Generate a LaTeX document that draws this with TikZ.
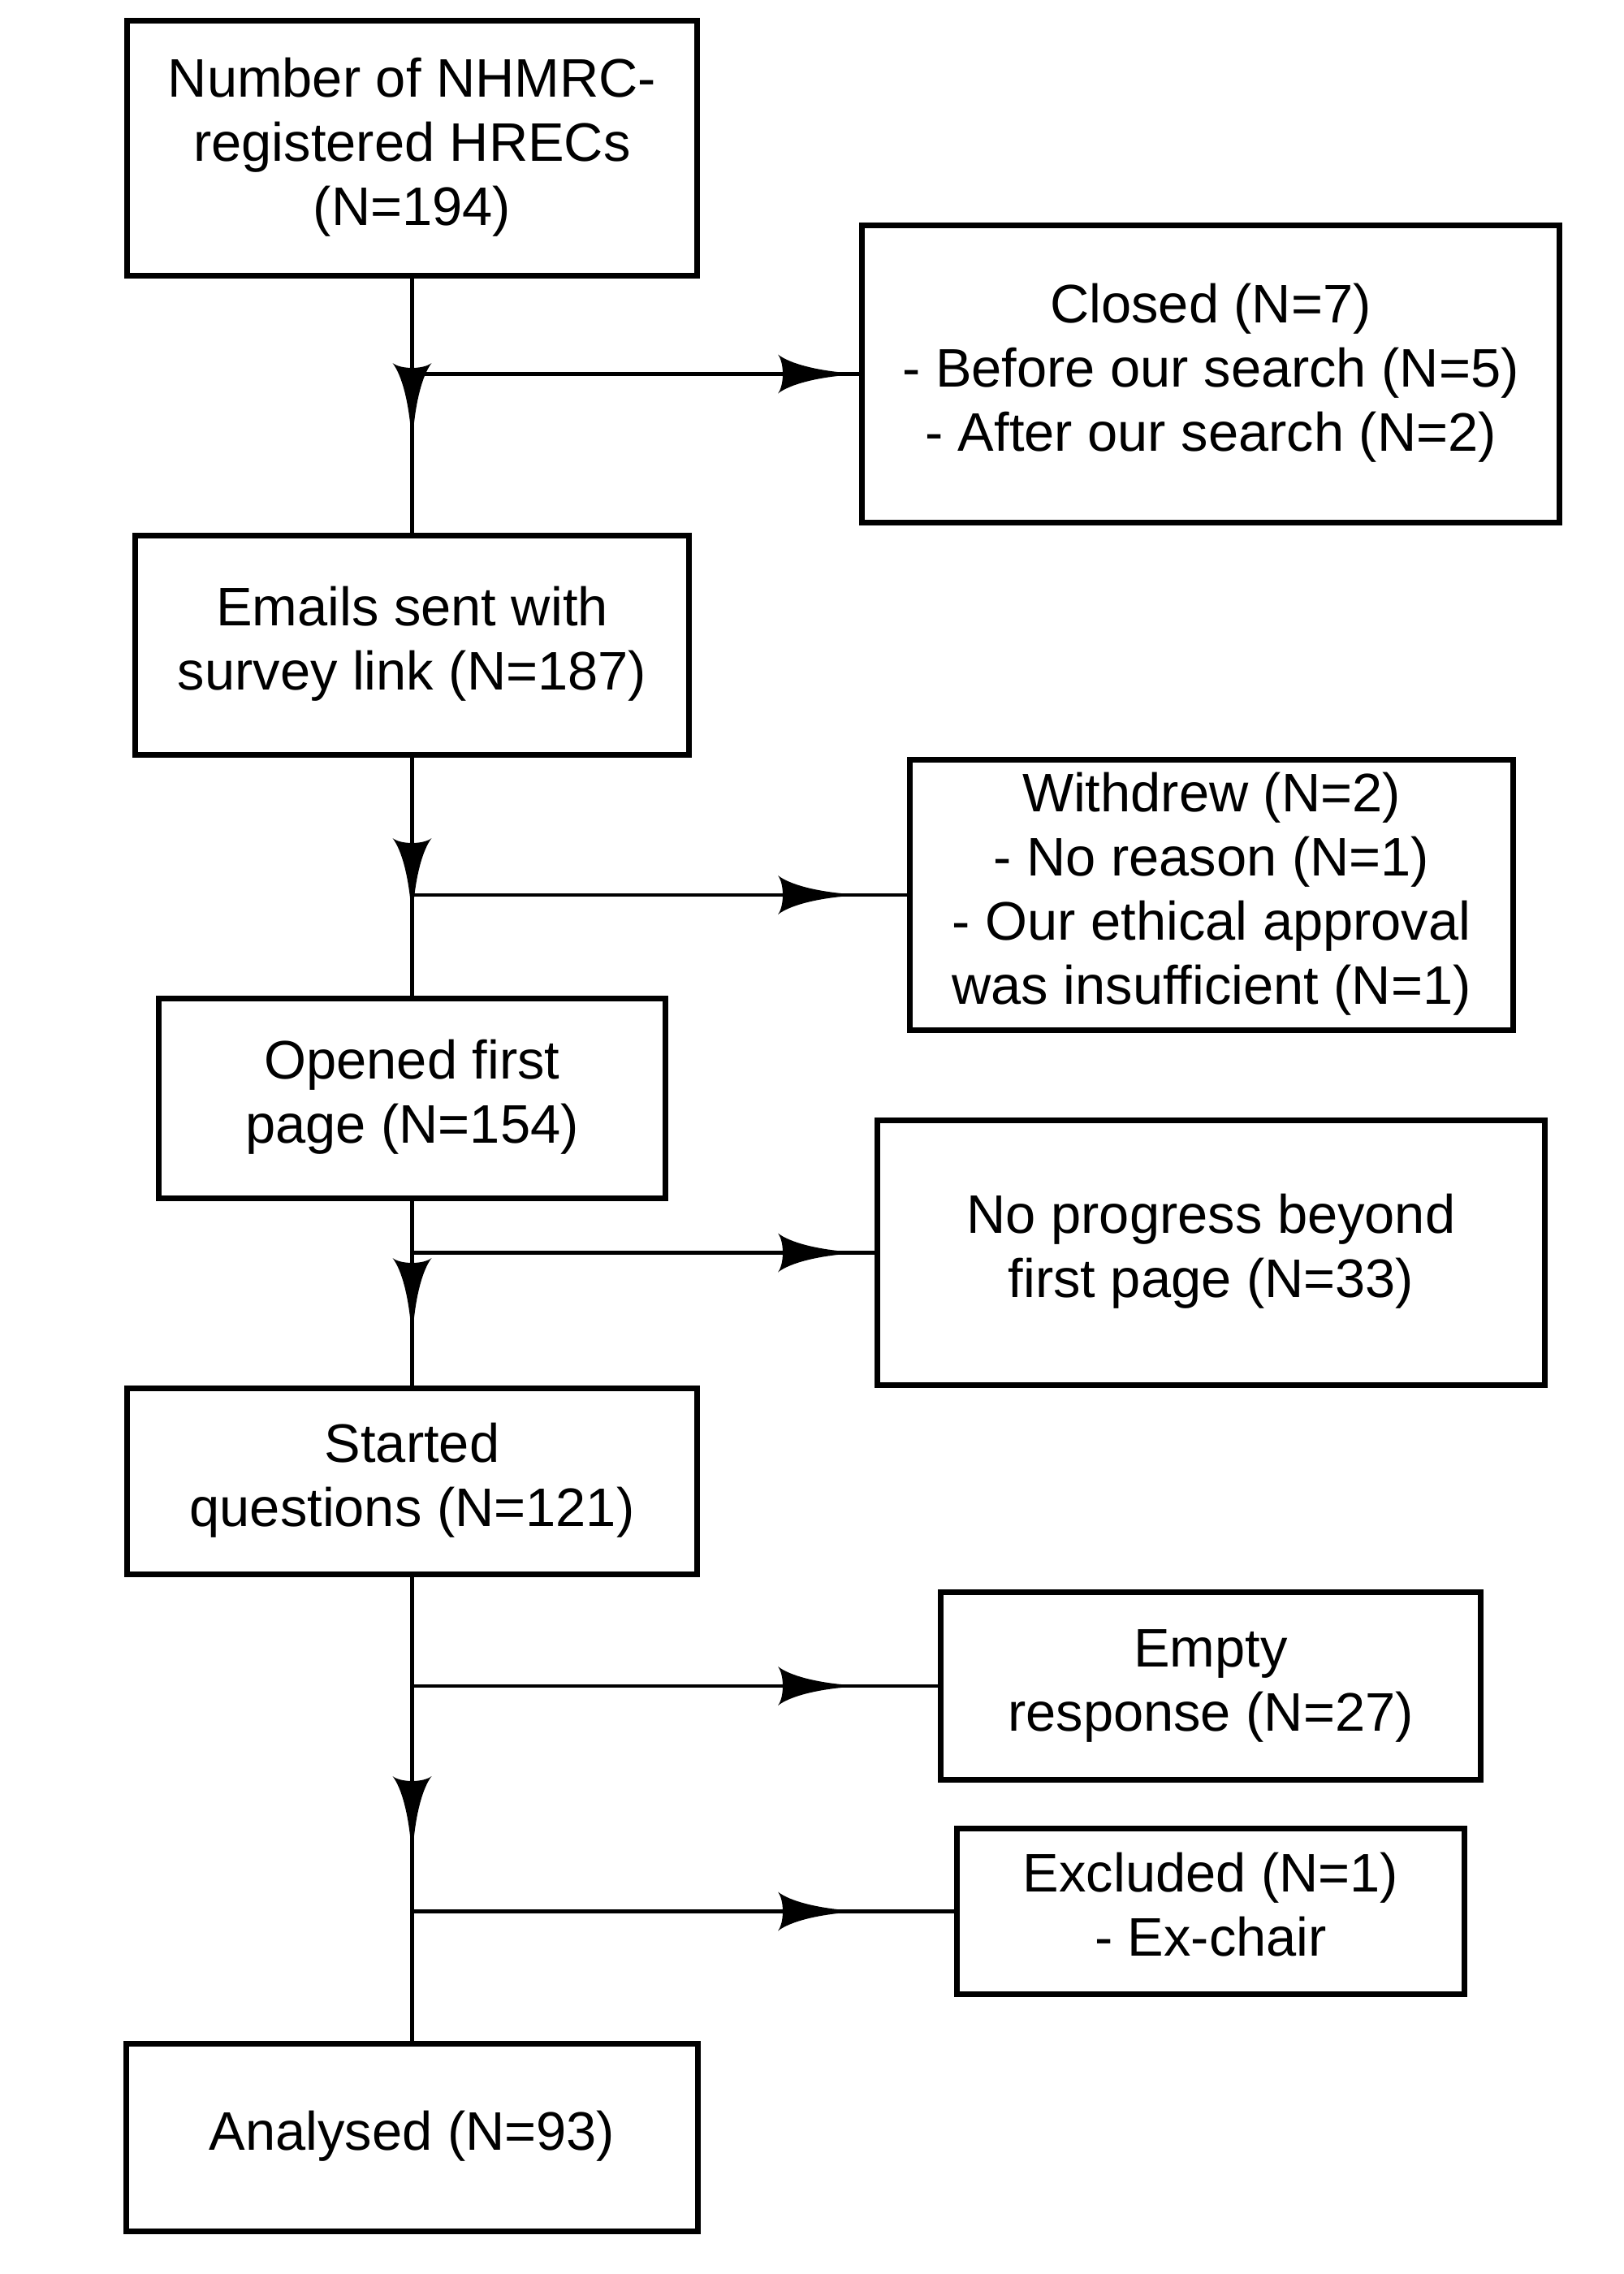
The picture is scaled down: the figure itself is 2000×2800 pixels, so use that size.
\documentclass[tikz,border=0pt]{standalone}
\usepackage{fontspec}
\setmainfont{Liberation Sans}
\newcommand\boxtext[1]{\raisebox{-0.08cm}{\begin{tabular}{@{}c@{}}#1\end{tabular}}}
\begin{document}
\begin{tikzpicture}[x=0.01cm,y=-0.01cm,
  box/.style={draw, line width=0.07cm, inner sep=0pt, outer sep=0pt,
    font=\fontsize{19pt}{22.5pt}\selectfont},
  conn/.style={line width=0.045cm},
  harrow/.pic={\fill (0,2) .. controls (-30,5) and (-62,12) .. (-78,24)
      .. controls (-70,14) and (-70,-14) .. (-78,-24)
      .. controls (-62,-12) and (-30,-5) .. (0,-2) -- cycle;}
]
\useasboundingbox (0,0) rectangle (2000,2800);

\node[box, minimum width=7.02cm, minimum height=3.14cm] (b1) at (507.5,182.5)
  {\boxtext{Number of NHMRC-\\registered HRECs\\(N=194)}};
\node[box, minimum width=8.59cm, minimum height=3.66cm] (closed) at (1491,460.5)
  {\boxtext{Closed (N=7)\\- Before our search (N=5)\\- After our search (N=2)}};
\node[box, minimum width=6.82cm, minimum height=2.70cm] (emails) at (507.5,794.5)
  {\boxtext{Emails sent with\\survey link (N=187)}};
\node[box, minimum width=7.43cm, minimum height=3.33cm] (withdrew) at (1492,1102)
  {\boxtext{Withdrew (N=2)\\- No reason (N=1)\\- Our ethical approval\\was insufficient (N=1)}};
\node[box, minimum width=6.23cm, minimum height=2.46cm] (opened) at (507.5,1352.5)
  {\boxtext{Opened first\\page (N=154)}};
\node[box, minimum width=8.22cm, minimum height=3.26cm] (noprog) at (1491.5,1542.5)
  {\boxtext{No progress beyond\\first page (N=33)}};
\node[box, minimum width=7.02cm, minimum height=2.29cm] (started) at (507.5,1824)
  {\boxtext{Started\\questions (N=121)}};
\node[box, minimum width=6.65cm, minimum height=2.31cm] (empty) at (1491,2076)
  {\boxtext{Empty\\response (N=27)}};
\node[box, minimum width=6.25cm, minimum height=2.04cm] (excluded) at (1491,2353.5)
  {\boxtext{Excluded (N=1)\\- Ex-chair}};
\node[box, minimum width=7.04cm, minimum height=2.31cm] (analysed) at (507.5,2632)
  {\boxtext{Analysed (N=93)}};

% main trunk
\draw[conn] (b1.south) -- (emails.north);
\draw[conn] (emails.south) -- (opened.north);
\draw[conn] (opened.south) -- (started.north);
\draw[conn] (started.south) -- (analysed.north);

% junctions on the trunk
\coordinate (j1) at (b1.south |- closed.west);
\coordinate (j2) at (b1.south |- withdrew.west);
\coordinate (j3) at (b1.south |- noprog.west);
\coordinate (j4) at (b1.south |- empty.west);
\coordinate (j5) at (b1.south |- excluded.west);

% side branches
\draw[conn] (j1) -- (closed.west);
\draw[conn] (j2) -- (withdrew.west);
\draw[conn] (j3) -- (noprog.west);
\draw[conn] (j4) -- (empty.west);
\draw[conn] (j5) -- (excluded.west);

% arrowheads on branches
\pic at (1036,460.5) {harrow};
\pic at (1036,1102) {harrow};
\pic at (1036,1542.5) {harrow};
\pic at (1036,2076) {harrow};
\pic at (1036,2353.5) {harrow};

% arrowheads on trunk
\pic[rotate=-90] at (507.5,525) {harrow};
\pic[rotate=-90] at (507.5,1110) {harrow};
\pic[rotate=-90] at (507.5,1627) {harrow};
\pic[rotate=-90] at (507.5,2265) {harrow};
\end{tikzpicture}
\end{document}
